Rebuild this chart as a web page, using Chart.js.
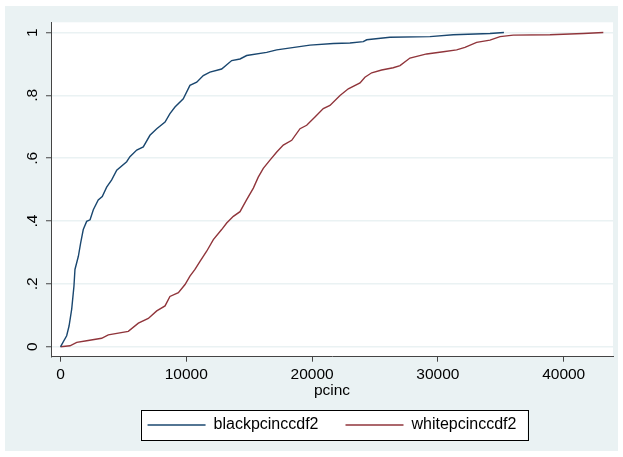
<!DOCTYPE html>
<html>
<head>
<meta charset="utf-8">
<script src="https://cdn.jsdelivr.net/npm/chart.js@4"></script>
<style>
  html, body { margin: 0; padding: 0; background: #fff; }
  #wrap { position: absolute; left: 5px; top: 6px; width: 613px; height: 445px; background: #eaf2f3; }
</style>
</head>
<body>
<div id="wrap"><canvas id="cdf"></canvas></div>
<script>
const blackX = [0, 40, 490, 680, 890, 1070, 1150, 1420, 1600, 1810, 2080, 2350, 2610, 3000, 3320, 3670,
  4070, 4470, 5260, 5520, 6060, 6580, 7110, 7650, 8310, 8700, 9100, 9760, 10290, 10830, 11350, 11880,
  12810, 13610, 14270, 14800, 16390, 17190, 19830, 21690, 23010, 24070, 24340, 26190, 29370, 31220, 34140, 35250];
const blackY = [0, 0.003, 0.035, 0.066, 0.12, 0.193, 0.246, 0.288, 0.33, 0.373, 0.399, 0.404, 0.436, 0.467, 0.478, 0.508,
  0.531, 0.562, 0.589, 0.605, 0.626, 0.636, 0.673, 0.694, 0.715, 0.742, 0.763, 0.789, 0.832, 0.842, 0.863, 0.874,
  0.884, 0.911, 0.916, 0.927, 0.937, 0.945, 0.96, 0.965, 0.967, 0.971, 0.977, 0.985, 0.987, 0.993, 0.997, 1];

const whiteX = [0, 755, 1290, 2080, 3270, 3800, 5390, 6190, 6980, 7650, 8310, 8700, 9370, 9900, 10290, 10690,
  11090, 11620, 12150, 12810, 13210, 13740, 14270, 14800, 15330, 15720, 16120, 16650, 17190, 17710, 18380,
  19040, 19570, 20230, 20890, 21420, 22220, 22880, 23810, 24200, 24740, 25530, 26450, 26990, 27780, 29110,
  30430, 31490, 32150, 33080, 34140, 34940, 35990, 38910, 41560, 43150];
const whiteY = [0, 0.003, 0.014, 0.019, 0.027, 0.038, 0.049, 0.075, 0.09, 0.114, 0.13, 0.16, 0.172, 0.198, 0.225, 0.246,
  0.272, 0.304, 0.341, 0.373, 0.394, 0.415, 0.43, 0.468, 0.505, 0.54, 0.568, 0.594, 0.62, 0.642, 0.657,
  0.694, 0.705, 0.731, 0.758, 0.768, 0.8, 0.821, 0.84, 0.858, 0.872, 0.881, 0.888, 0.895, 0.919, 0.932,
  0.939, 0.945, 0.953, 0.969, 0.976, 0.987, 0.992, 0.993, 0.997, 1];

const seriesNames = ['blackpcinccdf2', 'whitepcinccdf2'];
const xTicks = [0, 10000, 20000, 30000, 40000];
const yTicks = [0, 0.2, 0.4, 0.6, 0.8, 1];
const yTickLabels = ['0', '.2', '.4', '.6', '.8', '1'];

const NAVY = '#1a476f';
const MAROON = '#90353b';
const FAMILY = '"Liberation Sans", Arial, sans-serif';
const FONT = { family: FAMILY, size: 15.5 };

const toPoints = (xs, ys) => xs.map((x, i) => ({ x: x, y: ys[i] }));

// white plot region + legend frame
const stataBits = {
  id: 'stataBits',
  beforeDraw(chart) {
    const { ctx, chartArea: a } = chart;
    ctx.save();
    ctx.fillStyle = '#fff';
    ctx.fillRect(a.left, a.top, a.right - a.left, a.bottom - a.top);
    ctx.restore();
  },
  afterDraw(chart) {
    const boxes = chart.legend.legendHitBoxes;
    if (!boxes || !boxes.length) return;
    const last = boxes[boxes.length - 1];
    const l = boxes[0].left - 7;
    const r = last.left + last.width + 11;
    const t = boxes[0].top - 7;
    const b = boxes[0].top + boxes[0].height + 7;
    const ctx = chart.ctx;
    ctx.save();
    ctx.fillStyle = '#fff';
    ctx.globalCompositeOperation = 'destination-over';
    ctx.fillRect(l, t, r - l, b - t);
    ctx.globalCompositeOperation = 'source-over';
    ctx.strokeStyle = '#000';
    ctx.lineWidth = 1;
    ctx.strokeRect(Math.round(l) + 0.5, Math.round(t) + 0.5, Math.round(r - l), Math.round(b - t));
    ctx.restore();
  }
};

new Chart(document.getElementById('cdf'), {
  type: 'line',
  data: {
    datasets: [
      { label: seriesNames[0], data: toPoints(blackX, blackY), borderColor: NAVY, backgroundColor: NAVY, borderWidth: 1.4, pointRadius: 0, tension: 0 },
      { label: seriesNames[1], data: toPoints(whiteX, whiteY), borderColor: MAROON, backgroundColor: MAROON, borderWidth: 1.4, pointRadius: 0, tension: 0 }
    ]
  },
  options: {
    responsive: true,
    maintainAspectRatio: false,
    animation: false,
    events: [],
    layout: { padding: { top: 15.7, right: 5, left: 0, bottom: 8 } },
    plugins: {
      tooltip: { enabled: false },
      legend: {
        position: 'bottom',
        fullSize: false,
        labels: {
          font: { family: FAMILY, size: 16 },
          color: '#000',
          usePointStyle: true,
          pointStyle: 'line',
          pointStyleWidth: 58,
          padding: 27,
          generateLabels: chart => chart.data.datasets.map((d, i) => ({
            text: d.label, strokeStyle: d.borderColor, fillStyle: d.borderColor,
            lineWidth: 1.6, pointStyle: 'line', datasetIndex: i, fontColor: '#000'
          }))
        }
      }
    },
    scales: {
      x: {
        type: 'linear',
        min: -755,
        max: 43920,
        afterBuildTicks: s => { s.ticks = xTicks.map(v => ({ value: v })); },
        afterFit: s => { s.height = 33.3; },
        ticks: { font: FONT, color: '#000', padding: 3.5, maxRotation: 0, callback: v => String(v) },
        grid: { drawOnChartArea: false, tickLength: 5, tickColor: '#444', tickWidth: 1 },
        border: { display: true, color: '#444', width: 1 },
        title: { display: true, text: 'pcinc', font: FONT, color: '#000', padding: { top: 0, bottom: -10.3 } }
      },
      y: {
        min: -0.0317,
        max: 1.0327,
        afterBuildTicks: s => { s.ticks = yTicks.map(v => ({ value: v })); },
        afterFit: s => { s.width = 46; },
        ticks: {
          font: FONT, color: '#000', padding: 7,
          minRotation: 90, maxRotation: 90, crossAlign: 'center',
          callback: v => yTickLabels[yTicks.indexOf(v)]
        },
        grid: { color: '#eaf2f3', lineWidth: 1.5, tickLength: 5, tickColor: '#444', tickWidth: 1 },
        border: { display: true, color: '#444', width: 1 }
      }
    }
  },
  plugins: [stataBits]
});
</script>
</body>
</html>
